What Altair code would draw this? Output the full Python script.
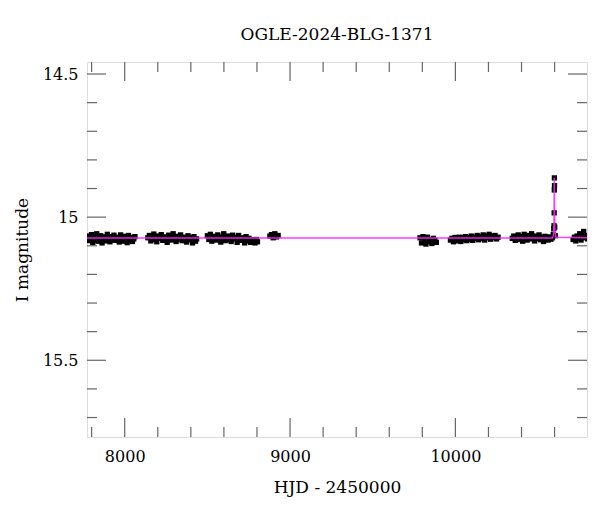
import altair as alt
import pandas as pd

# ---- observed photometry (HJD-2450000, I mag) per season ----
s1_t = [7775,7783,7791,7799,7807,7815,7823,7831,7839,7847,7855,7863,7871,7879,7887,7895,7903,7911,7919,7927,7935,7943,7951,7959,7967,7975,7983,7991,7999,8007,8015,8023,8031,8039,8047,8055,8062]
s1_m = [15.066,15.082,15.074,15.061,15.088,15.070,15.079,15.058,15.084,15.072,15.065,15.090,15.077,15.069,15.083,15.060,15.075,15.086,15.068,15.079,15.063,15.081,15.074,15.070,15.087,15.062,15.078,15.084,15.067,15.073,15.089,15.064,15.080,15.071,15.085,15.076,15.068]

s2_t = [8140,8149,8158,8167,8176,8185,8194,8203,8212,8221,8230,8239,8248,8257,8266,8275,8284,8293,8302,8311,8320,8329,8338,8347,8356,8365,8374,8383,8392,8401,8410,8419,8428,8435]
s2_m = [15.072,15.064,15.083,15.070,15.059,15.078,15.086,15.066,15.074,15.061,15.081,15.069,15.076,15.088,15.063,15.073,15.080,15.058,15.071,15.085,15.067,15.077,15.062,15.082,15.070,15.075,15.087,15.065,15.079,15.072,15.090,15.068,15.084,15.076]

s3_t = [8500,8509,8518,8527,8536,8545,8554,8563,8572,8581,8590,8599,8608,8617,8626,8635,8644,8653,8662,8671,8680,8689,8698,8707,8716,8725,8734,8743,8752,8761,8770,8779,8788,8796,8803]
s3_m = [15.065,15.078,15.060,15.084,15.071,15.067,15.080,15.062,15.075,15.087,15.069,15.058,15.082,15.073,15.066,15.079,15.085,15.063,15.076,15.070,15.088,15.064,15.081,15.072,15.078,15.090,15.068,15.083,15.074,15.088,15.079,15.084,15.090,15.078,15.086]

s4_t = [8878,8888,8898,8908,8918,8928]
s4_m = [15.066,15.061,15.072,15.058,15.069,15.064]

s5_t = [9786,9795,9804,9813,9822,9831,9840,9849,9858,9867,9876,9885]
s5_m = [15.072,15.090,15.068,15.084,15.094,15.070,15.086,15.078,15.092,15.074,15.081,15.088]

s6_t = [9970,9979,9988,9997,10006,10015,10024,10033,10042,10051,10060,10069,10078,10087,10096,10105,10114,10123,10132,10141,10150,10159,10168,10177,10186,10195,10204,10213,10222,10231,10240,10249,10258]
s6_m = [15.080,15.074,15.086,15.071,15.083,15.077,15.070,15.085,15.072,15.079,15.068,15.082,15.071,15.077,15.066,15.081,15.070,15.075,15.064,15.079,15.068,15.074,15.062,15.080,15.066,15.072,15.060,15.077,15.066,15.072,15.064,15.076,15.070]

s7_t = [10344,10353,10362,10371,10380,10389,10398,10407,10416,10425,10434,10443,10452,10461,10470,10479,10488,10497,10506,10515,10524,10533,10542,10551,10560,10569,10578,10586]
s7_m = [15.074,15.066,15.081,15.070,15.062,15.078,15.068,15.084,15.060,15.073,15.080,15.064,15.076,15.058,15.071,15.083,15.066,15.075,15.062,15.079,15.070,15.085,15.067,15.074,15.080,15.069,15.077,15.072]

peak_t = [10592,10595,10596.5,10597.5,10598.2,10598.8,10599.5,10601,10604]
peak_m = [15.060,15.040,15.030,14.985,14.905,14.863,14.890,15.035,15.065]

s8_t = [10712,10720,10728,10736,10744,10752,10760,10768,10776,10784,10792,10800]
s8_m = [15.078,15.070,15.083,15.066,15.074,15.058,15.080,15.068,15.050,15.072,15.064,15.076]

# ---- model curve ----
model_t = [7700,10588,10594,10596.5,10598,10599.5,10602,10608,10900]
model_m = [15.073,15.073,15.060,15.000,14.862,14.970,15.050,15.070,15.073]

# ---- ticks ----
x_major = [8000, 9000, 10000]
x_minor = [7800, 8200, 8400, 8600, 8800, 9200, 9400, 9600, 9800, 10200, 10400, 10600]
y_major = [14.5, 15.0, 15.5]
y_minor = [14.6, 14.7, 14.8, 14.9, 15.1, 15.2, 15.3, 15.4, 15.6, 15.7]

X_DOMAIN = [7772, 10796]
Y_DOMAIN = [14.458, 15.768]
W, H = 500, 375
FONT = "DejaVu Serif"
MAJ, MIN = 19, 10
TICK_COLOR = "#666666"

ts, ms = [], []
for t, m in [(s1_t, s1_m), (s2_t, s2_m), (s3_t, s3_m), (s4_t, s4_m), (s5_t, s5_m),
             (s6_t, s6_m), (s7_t, s7_m), (peak_t, peak_m), (s8_t, s8_m)]:
    n = min(len(t), len(m))
    ts += t[:n]
    ms += m[:n]
obs = pd.DataFrame({"x": ts, "y": ms})
model = pd.DataFrame({"x": model_t, "y": model_m})

xs = alt.Scale(domain=X_DOMAIN, nice=False, zero=False)
ys = alt.Scale(domain=Y_DOMAIN, nice=False, zero=False, reverse=True)

x_axis = alt.Axis(values=x_major, format="d", grid=False, ticks=False, tickSize=0, domain=False,
                  labelFont=FONT, labelFontSize=16, labelColor="black", labelPadding=11,
                  titleFont=FONT, titleFontSize=17, titleFontWeight="normal", titleColor="black",
                  titleY=55, titleBaseline="alphabetic")
y_axis = alt.Axis(values=y_major, format="~g", grid=False, ticks=False, tickSize=0, domain=False,
                  labelFont=FONT, labelFontSize=16, labelColor="black", labelPadding=9,
                  titleFont=FONT, titleFontSize=17, titleFontWeight="normal", titleColor="black",
                  titleX=-60, titleY=H / 2, titleBaseline="alphabetic")

points = alt.Chart(obs).mark_square(size=28, color="black", opacity=1, clip=True).encode(
    x=alt.X("x:Q", scale=xs, axis=x_axis, title="HJD - 2450000"),
    y=alt.Y("y:Q", scale=ys, axis=y_axis, title="I magnitude"),
)

line = alt.Chart(model).mark_line(color="#ff22ff", strokeWidth=1.4, opacity=0.9, clip=True).encode(
    x=alt.X("x:Q", scale=xs, title="HJD - 2450000"),
    y=alt.Y("y:Q", scale=ys, title="I magnitude"),
)

def xticks(vals, L):
    d = pd.DataFrame({"x": vals})
    bot = alt.Chart(d).mark_rule(color=TICK_COLOR, strokeWidth=1.2).encode(
        x=alt.X("x:Q", scale=xs, title="HJD - 2450000"), y=alt.value(H), y2=alt.value(H - L))
    top = alt.Chart(d).mark_rule(color=TICK_COLOR, strokeWidth=1.2).encode(
        x=alt.X("x:Q", scale=xs, title="HJD - 2450000"), y=alt.value(0), y2=alt.value(L))
    return [bot, top]

def yticks(vals, L):
    d = pd.DataFrame({"y": vals})
    left = alt.Chart(d).mark_rule(color=TICK_COLOR, strokeWidth=1.2).encode(
        y=alt.Y("y:Q", scale=ys, title="I magnitude"), x=alt.value(0), x2=alt.value(L))
    right = alt.Chart(d).mark_rule(color=TICK_COLOR, strokeWidth=1.2).encode(
        y=alt.Y("y:Q", scale=ys, title="I magnitude"), x=alt.value(W), x2=alt.value(W - L))
    return [left, right]

layers = [points, line] + xticks(x_major, MAJ) + xticks(x_minor, MIN) + yticks(y_major, MAJ) + yticks(y_minor, MIN)

chart = alt.layer(*layers).properties(
    width=W, height=H,
    title=alt.TitleParams("OGLE-2024-BLG-1371", font=FONT, fontSize=17, fontWeight="normal",
                          color="black", anchor="middle", offset=17),
    autosize=alt.AutoSizeParams(type="none"),
    padding={"left": 79, "top": 54, "right": 5, "bottom": 66},
).configure_view(stroke="black", strokeWidth=1.3).configure(background="white")

chart.save("out.html", embed_options={"renderer": "svg", "actions": False})
